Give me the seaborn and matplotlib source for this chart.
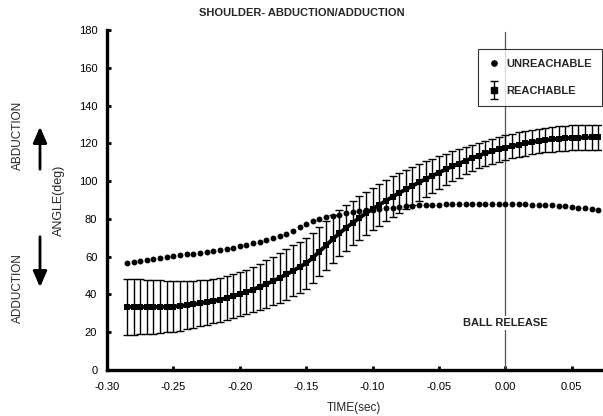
import numpy as np
import pandas as pd
import seaborn as sns
import matplotlib.pyplot as plt
from matplotlib.lines import Line2D
from matplotlib.container import ErrorbarContainer
from matplotlib.legend_handler import HandlerErrorbar

# sample times (sec, relative to ball release)
time_sec = [
    -0.285, -0.280, -0.275, -0.270, -0.265, -0.260, -0.255, -0.250, -0.245, -0.240,
    -0.235, -0.230, -0.225, -0.220, -0.215, -0.210, -0.205, -0.200, -0.195, -0.190,
    -0.185, -0.180, -0.175, -0.170, -0.165, -0.160, -0.155, -0.150, -0.145, -0.140,
    -0.135, -0.130, -0.125, -0.120, -0.115, -0.110, -0.105, -0.100, -0.095, -0.090,
    -0.085, -0.080, -0.075, -0.070, -0.065, -0.060, -0.055, -0.050, -0.045, -0.040,
    -0.035, -0.030, -0.025, -0.020, -0.015, -0.010, -0.005, 0.000, 0.005, 0.010,
    0.015, 0.020, 0.025, 0.030, 0.035, 0.040, 0.045, 0.050, 0.055, 0.060,
    0.065, 0.070,
]

unreachable = [
    56.6, 57.3, 57.9, 58.4, 58.9, 59.4, 59.9, 60.4, 60.8, 61.2,
    61.6, 62.0, 62.5, 63.0, 63.6, 64.2, 64.8, 65.5, 66.2, 67.0,
    67.9, 68.8, 69.8, 70.9, 72.1, 73.5, 75.5, 77.5, 78.8, 79.9,
    80.8, 81.6, 82.3, 82.9, 83.5, 84.0, 84.5, 84.9, 85.3, 85.7,
    86.0, 86.3, 86.6, 86.9, 87.1, 87.3, 87.5, 87.6, 87.7, 87.8,
    87.9, 88.0, 88.0, 88.1, 88.1, 88.1, 88.1, 88.0, 87.9, 87.8,
    87.7, 87.6, 87.5, 87.3, 87.1, 86.9, 86.6, 86.3, 85.9, 85.5,
    85.1, 84.7,
]

reachable_mean = [
    33.4, 33.4, 33.4, 33.4, 33.4, 33.4, 33.5, 33.6, 33.9, 34.3,
    34.8, 35.3, 35.9, 36.5, 37.2, 38.1, 39.1, 40.2, 41.4, 42.6,
    44.0, 45.5, 47.1, 48.8, 50.6, 52.5, 54.5, 56.5, 59.5, 62.7,
    66.0, 69.3, 72.4, 75.2, 77.9, 80.5, 82.9, 85.2, 87.4, 89.6,
    91.7, 93.7, 95.6, 97.5, 99.3, 101.1, 102.8, 104.5, 106.2, 107.8,
    109.3, 110.8, 112.2, 113.5, 114.7, 115.8, 116.8, 117.7, 118.5, 119.3,
    120.0, 120.6, 121.2, 121.7, 122.1, 122.4, 122.7, 122.9, 123.0, 123.1,
    123.1, 123.1,
]

reachable_sd = [
    15.0, 14.8, 14.6, 14.4, 14.2, 14.0, 13.6, 13.3, 13.0, 12.7,
    12.4, 12.2, 12.0, 11.8, 11.7, 11.6, 11.6, 11.6, 11.8, 12.0,
    12.3, 12.6, 12.9, 13.2, 13.4, 13.5, 13.5, 13.4, 13.2, 13.0,
    12.8, 12.5, 12.3, 12.0, 11.8, 11.6, 11.4, 11.2, 11.0, 10.9,
    10.8, 10.7, 10.5, 10.2, 9.9, 9.5, 9.1, 8.7, 8.3, 7.9,
    7.6, 7.3, 7.0, 6.8, 6.7, 6.6, 6.5, 6.5, 6.5, 6.5,
    6.5, 6.5, 6.5, 6.5, 6.5, 6.6, 6.6, 6.6, 6.6, 6.6,
    6.6, 6.6,
]

x_ticks = [-0.30, -0.25, -0.20, -0.15, -0.10, -0.05, 0.00, 0.05]
y_ticks = [0, 20, 40, 60, 80, 100, 120, 140, 160, 180]

df = pd.DataFrame({
    "time": time_sec,
    "unreachable": unreachable,
    "mean": reachable_mean,
    "sd": reachable_sd,
})

sns.set_theme(style="ticks")
plt.rcParams["font.family"] = ["Liberation Sans", "DejaVu Sans"]
plt.rcParams["axes.unicode_minus"] = False

fig = plt.figure(figsize=(6.03, 4.16), dpi=100)
ax = fig.add_axes([107 / 603, 46 / 416, 494 / 603, 340 / 416])

# ball release marker
ax.axvline(0.0, ymin=0, ymax=0.995, color="#555555", lw=0.9, zorder=1)
ax.text(0.0, 25, "BALL RELEASE", ha="center", va="center", fontsize=8,
        fontweight="bold", color="#222222", zorder=3,
        bbox=dict(facecolor="white", edgecolor="none", pad=1.5))

# reachable: mean +/- sd
ax.errorbar(df["time"], df["mean"], yerr=df["sd"], fmt="none", ecolor="black",
            elinewidth=1.0, capsize=2.6, capthick=1.0, zorder=2)
sns.lineplot(data=df, x="time", y="mean", ax=ax, color="black", lw=2.8,
             marker="s", markersize=3.8, markeredgewidth=0, zorder=3)

# unreachable
sns.scatterplot(data=df, x="time", y="unreachable", ax=ax, color="black",
                s=18, linewidth=0, zorder=4)

ax.set_xlim(-0.30, 0.072)
ax.set_ylim(0, 180)
ax.set_xticks(x_ticks)
ax.set_xticklabels([f"{v:.2f}" for v in x_ticks])
ax.set_yticks(y_ticks)
ax.tick_params(direction="in", length=3, width=2, labelsize=8, colors="black")
ax.tick_params(axis="x", pad=9)
ax.tick_params(axis="y", pad=7)
for side in ["top", "right"]:
    ax.spines[side].set_visible(False)
for side in ["left", "bottom"]:
    ax.spines[side].set_linewidth(2.4)
    ax.spines[side].set_color("black")

ax.set_xlabel("TIME(sec)", fontsize=8.5, labelpad=7)
ax.set_ylabel("ANGLE(deg)", fontsize=9, labelpad=10)
fig.text(0.5, 1 - 13 / 416, "SHOULDER- ABDUCTION/ADDUCTION", ha="center",
         va="center", fontsize=8, fontweight="bold")

# direction annotations at far left
fig.text(18 / 603, 1 - 135 / 416, "ABDUCTION", rotation=90, ha="center",
         va="center", fontsize=8.5)
fig.text(18 / 603, 1 - 288 / 416, "ADDUCTION", rotation=90, ha="center",
         va="center", fontsize=8.5)
ax.annotate("", xy=(40 / 603, 1 - 124 / 416), xytext=(40 / 603, 1 - 172 / 416),
            xycoords="figure fraction", annotation_clip=False,
            arrowprops=dict(arrowstyle="-|>,head_width=0.35,head_length=0.8",
                            color="black", lw=2))
ax.annotate("", xy=(40 / 603, 1 - 290 / 416), xytext=(40 / 603, 1 - 234 / 416),
            xycoords="figure fraction", annotation_clip=False,
            arrowprops=dict(arrowstyle="-|>,head_width=0.35,head_length=0.8",
                            color="black", lw=2))

# legend
h_un = Line2D([], [], ls="none", marker="o", color="black", markersize=3.8)
h_re = ax.errorbar([np.nan], [np.nan], yerr=[1.0], fmt="s", color="black",
                   markersize=3.8, capsize=3, capthick=1.0, elinewidth=1.0)
leg = ax.legend([h_un, h_re], ["UNREACHABLE", "REACHABLE"], loc="upper right",
                bbox_to_anchor=(602 / 603, 1 - 49 / 416),
                bbox_transform=fig.transFigure, borderaxespad=0,
                prop={"size": 8, "weight": "bold"}, frameon=True,
                fancybox=False, edgecolor="black", handlelength=1.2,
                handletextpad=0.5, borderpad=0.9, labelspacing=1.5,
                handler_map={ErrorbarContainer: HandlerErrorbar(yerr_size=0.8)})
leg.get_frame().set_linewidth(0.8)

fig.savefig("out.png", dpi=100)
